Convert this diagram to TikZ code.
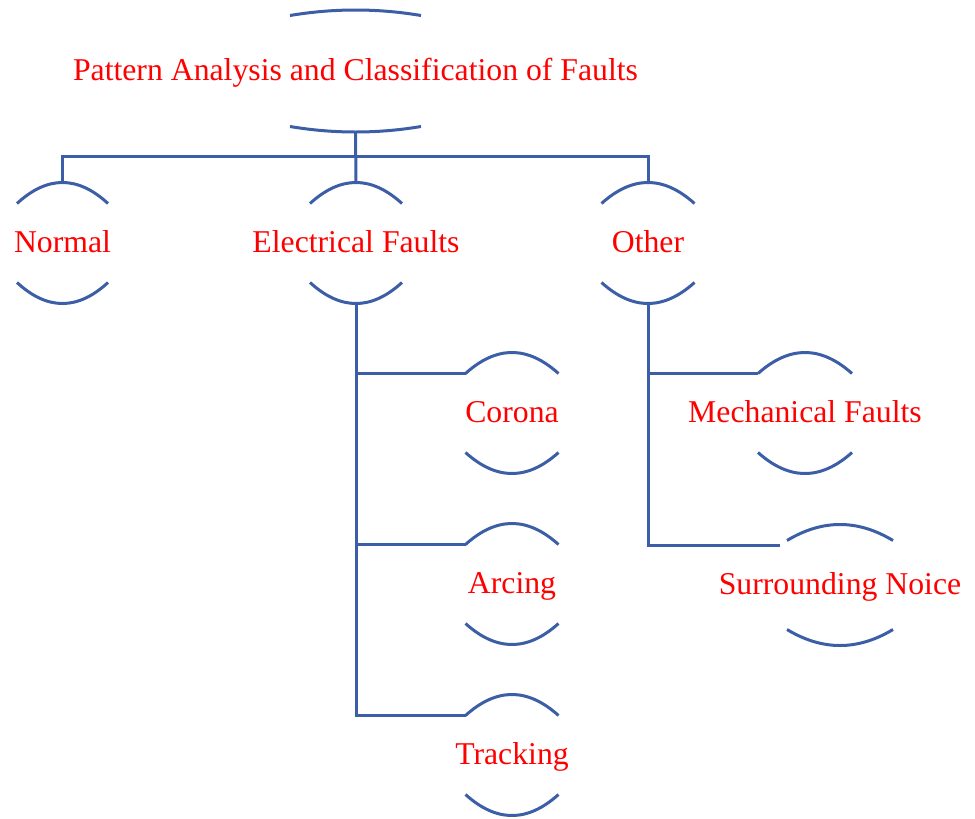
\documentclass[tikz,border=0pt]{standalone}
\usepackage{fontspec}
\setmainfont{Liberation Serif}
\usetikzlibrary{calc}
\definecolor{lineblue}{RGB}{59,94,166}
\definecolor{txtred}{RGB}{255,0,0}
\tikzset{
  lbl/.style={text=txtred,font=\fontsize{23.8}{28}\selectfont,inner sep=0pt,anchor=base},
  wire/.style={draw=lineblue,line width=2.25pt}
}
% #1 node name, #2 half chord, #3 sagitta, #4 half height
\newcommand\shellarcs[4]{%
  \draw[wire] ($(#1.base)+(-#2,-9-#4+#3)$) coordinate (#1-tl)
     .. controls ($(#1.base)+(-#2/3,-9-#4+#3-4*#3/3)$)
     and ($(#1.base)+(#2/3,-9-#4+#3-4*#3/3)$) .. ($(#1.base)+(#2,-9-#4+#3)$);
  \coordinate (#1-top) at ($(#1.base)+(0,-9-#4)$);
  \draw[wire] ($(#1.base)+(-#2,-9+#4-#3)$)
     .. controls ($(#1.base)+(-#2/3,-9+#4-#3+4*#3/3)$)
     and ($(#1.base)+(#2/3,-9+#4-#3+4*#3/3)$) .. ($(#1.base)+(#2,-9+#4-#3)$);
  \coordinate (#1-bot) at ($(#1.base)+(0,-9+#4)$);%
}
\begin{document}
\begin{tikzpicture}[x=0.75pt,y=-0.75pt]
\useasboundingbox (0,0) rectangle (975,818);
\node[lbl] (title) at (355.5,80) {Pattern Analysis and Classification of Faults};
\node[lbl] (normal) at (62.5,252) {Normal};
\node[lbl] (elec) at (356,252) {Electrical Faults};
\node[lbl] (other) at (648,252) {Other};
\node[lbl] (corona) at (512,422) {Corona};
\node[lbl] (arcing) at (512,593) {Arcing};
\node[lbl] (tracking) at (512,764) {Tracking};
\node[lbl] (mech) at (805,422) {Mechanical Faults};
\node[lbl] (noise) at (840,594) {Surrounding Noice};

\shellarcs{title}{65.5}{5.5}{61}
\shellarcs{normal}{45.5}{21}{60.5}
\shellarcs{elec}{46}{21}{60.5}
\shellarcs{other}{46.5}{21}{60.5}
\shellarcs{corona}{46.5}{21}{60.5}
\shellarcs{arcing}{46.5}{21}{60.5}
\shellarcs{tracking}{46.5}{21}{60.5}
\shellarcs{mech}{47}{21}{60.5}
\shellarcs{noise}{53}{16}{60.5}

\coordinate (noise-in) at ($(noise-tl)+(-7,5)$);

\draw[wire] (title-bot) -- (elec-top);
\draw[wire] (normal-top) -- ++(0,-26) -| (other-top);
\draw[wire] (elec-bot) |- (tracking-tl);
\draw[wire] (elec-bot) |- (corona-tl);
\draw[wire] (elec-bot) |- (arcing-tl);
\draw[wire] (other-bot) |- (mech-tl);
\draw[wire] (other-bot) |- (noise-in);
\end{tikzpicture}
\end{document}
